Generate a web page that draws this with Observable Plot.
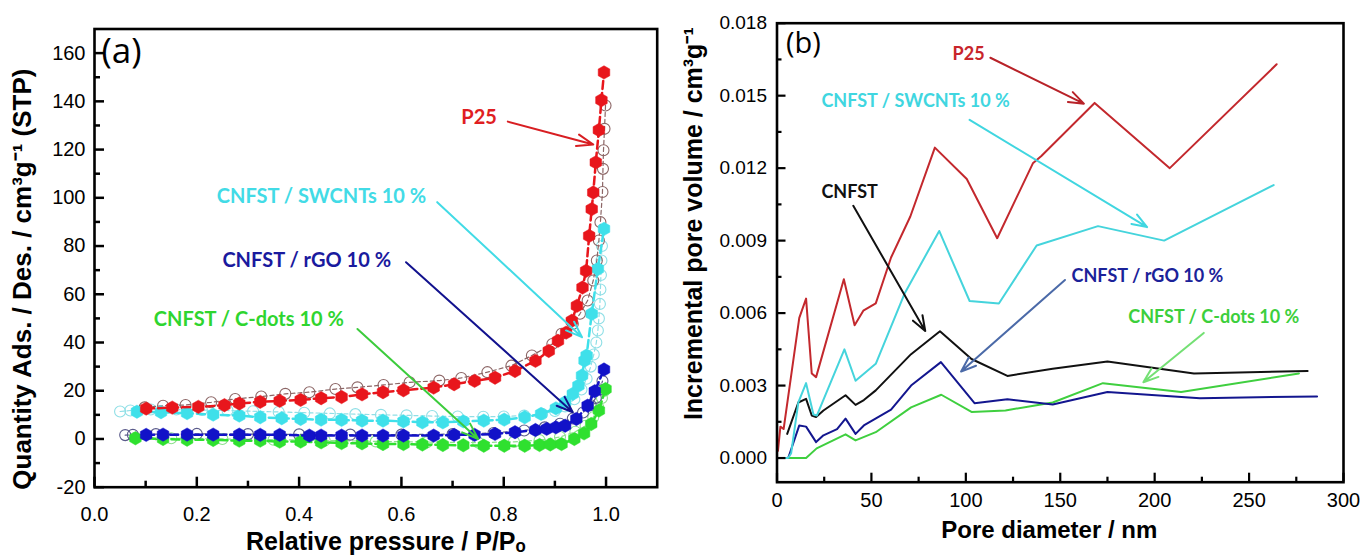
<!DOCTYPE html>
<html><head><meta charset="utf-8">
<script src="https://cdn.jsdelivr.net/npm/d3@7"></script>
<script src="https://cdn.jsdelivr.net/npm/@observablehq/plot@0.6"></script>
<style>
html,body{margin:0;padding:0;background:#fff;}
#wrap{position:relative;width:1362px;height:555px;overflow:hidden;background:#fff;}
#pa{position:absolute;left:0;top:0;}
#pb{position:absolute;left:680px;top:0;}
</style></head><body><div id="wrap"><div id="pa"></div><div id="pb"></div></div>
<script>
// ================= DATA: panel (a) isotherms [P/P0, quantity] =================
const aXTicks = [0, 0.2, 0.4, 0.6, 0.8, 1.0];
const aXMinor = [0.1, 0.3, 0.5, 0.7, 0.9];
const aYTicks = [-20, 0, 20, 40, 60, 80, 100, 120, 140, 160];
const aYMinor = [-10, 10, 30, 50, 70, 90, 110, 130, 150];

const p25Ads = [[0.101,12.6],[0.152,13.0],[0.203,13.3],[0.254,14.0],[0.283,14.7],[0.324,15.4],[0.362,15.8],[0.403,16.2],[0.443,16.9],[0.483,17.4],[0.523,18.5],[0.564,19.4],[0.604,20.2],[0.663,21.3],[0.703,22.7],[0.743,24.1],[0.783,25.4],[0.822,28.2],[0.862,32.4],[0.888,36.5],[0.906,40.7],[0.922,44.1],[0.933,49.0],[0.943,55.2],[0.954,62.8],[0.961,69.7],[0.967,84.2],[0.972,95.3],[0.975,102.2],[0.980,114.7],[0.986,128.1],[0.991,140.5],[0.996,152.0]];
const p25Des = [[0.098,13.1],[0.134,13.8],[0.178,14.1],[0.228,15.2],[0.275,16.6],[0.326,17.6],[0.373,18.7],[0.420,19.4],[0.471,20.7],[0.514,21.4],[0.565,22.4],[0.616,23.5],[0.674,24.2],[0.717,25.3],[0.768,27.7],[0.815,30.4],[0.855,34.6],[0.895,39.4],[0.913,43.6],[0.935,47.7],[0.949,51.9],[0.964,57.4],[0.975,65.7],[0.982,74.0],[0.986,82.3],[0.989,89.9],[0.993,102.4],[0.994,112.0],[0.995,119.7],[0.997,128.6],[0.999,138.3]];

const swAds = [[0.083,11.3],[0.130,11.1],[0.181,10.7],[0.232,10.1],[0.283,9.7],[0.324,9.0],[0.366,8.6],[0.403,8.3],[0.443,8.0],[0.483,7.9],[0.523,7.6],[0.564,7.6],[0.604,7.3],[0.641,6.9],[0.681,6.9],[0.721,7.3],[0.761,7.6],[0.801,8.0],[0.841,9.0],[0.873,10.4],[0.902,12.7],[0.920,15.2],[0.935,18.7],[0.946,22.1],[0.953,26.3],[0.958,32.5],[0.962,34.6],[0.972,51.9],[0.984,70.5],[0.996,87.1]];
const swDes = [[0.05,11.4],[0.07,11.8],[0.11,12.2],[0.16,12.2],[0.21,12.0],[0.26,11.8],[0.31,11.5],[0.36,11.2],[0.41,10.9],[0.46,10.6],[0.51,10.3],[0.56,10.0],[0.61,9.8],[0.66,9.5],[0.71,9.3],[0.76,9.2],[0.80,9.3],[0.84,9.7],[0.875,10.4],[0.90,11.6],[0.92,13.5],[0.938,16.5],[0.952,20.5],[0.962,25],[0.970,30],[0.976,35],[0.981,40],[0.984,45],[0.986,50],[0.988,56],[0.989,62],[0.990,68],[0.991,74],[0.992,80]];

const rgoAds = [[0.101,1.7],[0.134,1.8],[0.181,1.8],[0.232,1.8],[0.283,1.8],[0.324,1.7],[0.362,1.7],[0.420,1.4],[0.443,1.4],[0.483,1.4],[0.523,1.4],[0.564,1.4],[0.604,1.4],[0.663,1.4],[0.703,1.7],[0.743,1.7],[0.783,2.1],[0.822,2.8],[0.862,3.7],[0.884,4.2],[0.902,4.8],[0.920,5.5],[0.942,8.3],[0.964,13.8],[0.978,19.8],[0.996,28.8]];
const rgoDes = [[0.06,1.6],[0.075,1.7],[0.12,2.0],[0.20,2.1],[0.30,2.0],[0.40,1.9],[0.50,1.8],[0.60,1.8],[0.70,2.0],[0.78,2.5],[0.84,3.5],[0.88,4.8],[0.91,6.3],[0.935,8.5],[0.955,11.0],[0.970,14.0],[0.980,17.0],[0.988,20.5],[0.993,24.0]];

const cdAds = [[0.080,0.3],[0.134,0.0],[0.181,-0.3],[0.232,-0.4],[0.283,-0.7],[0.324,-0.7],[0.362,-1.1],[0.403,-1.1],[0.443,-1.4],[0.483,-1.7],[0.523,-1.8],[0.564,-2.1],[0.604,-2.1],[0.641,-2.3],[0.681,-2.5],[0.721,-2.6],[0.761,-2.8],[0.801,-2.8],[0.841,-2.8],[0.870,-2.5],[0.891,-2.3],[0.913,-2.1],[0.938,0.0],[0.957,2.3],[0.971,6.2],[0.986,11.8],[0.999,20.7]];
const cdDes = [[0.08,0.5],[0.15,0.3],[0.25,0.0],[0.35,-0.3],[0.45,-0.6],[0.55,-1.0],[0.65,-1.3],[0.75,-1.5],[0.82,-1.2],[0.87,-0.5],[0.91,0.8],[0.94,3.0],[0.96,5.5],[0.975,9.0],[0.985,13.0],[0.992,17.0],[0.997,20.0]];

// labels and arrows of panel (a), in data units
const aLabels = ["P25", "CNFST / SWCNTs 10 %", "CNFST / rGO 10 %", "CNFST / C-dots 10 %"];
const aLabelAt = [[0.717,133.3],[0.239,100.3],[0.250,74.0],[0.116,49.4]];
const aArrows = [[0.808,131.6,0.975,122.1],[0.670,98.2,0.953,42.2],[0.609,73.3,0.935,11.1],[0.514,45.6,0.750,0.0]];

// ================= DATA: panel (b) pore size distributions [nm, cm3/g] =================
const bXTicks = [0, 50, 100, 150, 200, 250, 300];
const bXMinor = [25, 75, 125, 175, 225, 275];
const bYTicks = [0, 0.003, 0.006, 0.009, 0.012, 0.015, 0.018];
const bYMinor = [0.0015, 0.0045, 0.0075, 0.0105, 0.0135, 0.0165];

const p25Pore = [[0.5,0.0003],[1.8,0.0013],[3.5,0.0012],[11.8,0.0058],[15.4,0.0066],[18.4,0.0035],[20.7,0.00335],[35.4,0.0074],[41.1,0.0055],[45.7,0.0061],[52.3,0.0064],[60.4,0.0083],[70.6,0.0100],[83.6,0.01285],[100.5,0.01155],[116.6,0.0091],[135.5,0.0122],[140,0.0125],[168.2,0.0147],[208,0.0120],[264.6,0.0163]];
const swPore = [[0,0],[5.9,0],[7.5,0.0002],[11.3,0.0023],[15.4,0.0031],[19.3,0.0018],[21.1,0.00176],[35.7,0.0045],[41.6,0.0032],[52.3,0.0039],[67.5,0.0068],[85.9,0.0094],[102,0.0065],[117.5,0.0064],[137.5,0.0088],[170,0.0096],[205,0.0090],[263,0.0113]];
const cnfstPore = [[5.4,0.001],[11.3,0.0023],[15.4,0.00245],[18.4,0.00176],[20.7,0.0017],[24.6,0.00197],[36.3,0.0026],[41.6,0.0022],[46,0.0024],[52.3,0.0028],[71,0.0043],[86.3,0.00525],[103,0.0041],[122,0.0034],[146,0.0037],[175,0.0040],[220.8,0.0035],[281,0.0036]];
const rgoPore = [[0,0],[5.9,0],[6.8,0.0002],[11.8,0.00135],[15.4,0.0013],[20.7,0.00066],[24.6,0.00094],[31.8,0.0012],[36.3,0.00163],[41.6,0.001],[46,0.00135],[60.4,0.002],[71,0.003],[86.8,0.00397],[104.6,0.00227],[122,0.00243],[146,0.00222],[175,0.00273],[224,0.00248],[286,0.00255]];
const cdPore = [[0,0],[15.4,0],[21,0.0004],[36.3,0.00098],[41.6,0.00073],[52.3,0.00107],[71,0.0021],[87,0.00262],[103,0.00191],[121,0.00197],[146,0.0023],[172.6,0.0031],[214,0.00273],[276.4,0.0035]];

const bLabels = ["P25", "CNFST / SWCNTs 10 %", "CNFST", "CNFST / rGO 10 %", "CNFST / C-dots 10 %"];
const bLabelAt = [[93,0.01672],[23.5,0.01475],[23.5,0.0110],[156,0.00752],[186,0.00584]];
const bArrows = [[113,0.01657,162.5,0.01467],[102,0.0140,196,0.00956],[40.4,0.01044,78.5,0.00526],[152.5,0.00737,97.5,0.00358],[226,0.00518,194,0.00314]];

// ================= STYLE =================
const AXFONT = "'Liberation Sans', Arial, sans-serif";
const NOTEFONT = "Lato, 'Open Sans', sans-serif";
const X = d => d[0], Y = d => d[1];

// ---------- Panel (a) ----------
{
  const W = 680, H = 555, ML = 94, MR = 23.3, MT = 28.5, MB = 68.3;
  const iw = W - ML - MR, ih = H - MT - MB;
  const series = [
    {ads: cdAds,  des: cdDes,  fill: "#2fe02f", open: "#8fe08f"},
    {ads: rgoAds, des: rgoDes, fill: "#1212c8", open: "#5a5a8a"},
    {ads: swAds,  des: swDes,  fill: "#3fe0ea", open: "#8fdfe6"},
    {ads: p25Ads, des: p25Des, fill: "#e8161c", open: "#8c6666"}
  ];
  const labelColors = ["#e01e22", "#42dbe6", "#1a1a9e", "#2fd52f"];
  const arrowColors = ["#d81e22", "#42dbe6", "#12128e", "#3ccc3c"];
  const marks = [];
  for (const s of series) {
    marks.push(Plot.line(s.des, {x: X, y: Y, stroke: s.open, strokeWidth: 1.2, strokeDasharray: "4,3"}));
    marks.push(Plot.dot(s.des, {x: X, y: Y, r: 5.5, stroke: s.open, strokeWidth: 1.1, fill: "none"}));
  }
  for (const s of series) {
    marks.push(Plot.line(s.ads, {x: X, y: Y, stroke: s.fill, strokeWidth: 2.5, strokeDasharray: "8,4"}));
    marks.push(Plot.dot(s.ads, {x: X, y: Y, r: 5.8, symbol: "hexagon", fill: s.fill, stroke: s.fill, strokeWidth: 0.5}));
  }
  aArrows.forEach((a, i) => {
    marks.push(Plot.arrow([a], {x1: d => d[0], y1: d => d[1], x2: d => d[2], y2: d => d[3], stroke: arrowColors[i], strokeWidth: 2, headLength: 13, headAngle: 40}));
  });
  aLabels.forEach((t, i) => {
    marks.push(Plot.text([aLabelAt[i]], {x: X, y: Y, text: () => t, textAnchor: "start", fill: labelColors[i], fontSize: 20, fontWeight: "bold", fontFamily: NOTEFONT}));
  });
  const chart = Plot.plot({
    width: W, height: H, marginLeft: ML, marginRight: MR, marginTop: MT, marginBottom: MB,
    x: {domain: [0, 1.1]}, y: {domain: [-20, 170]},
    style: {fontFamily: AXFONT, background: "white", color: "black", overflow: "visible"},
    marks: [
      ...marks,
      Plot.axisX({ticks: aXTicks, tickSize: 0, tickPadding: 20, fontSize: 20, tickFormat: d3.format(".1f"), label: null}),
      Plot.axisY({ticks: aYTicks, tickSize: 0, tickPadding: 9, fontSize: 20, tickFormat: d => String(d), label: null}),
      Plot.tickX(aXTicks, {x: d => d, insetTop: ih - 10, strokeWidth: 2.5}),
      Plot.tickX(aXMinor, {x: d => d, insetTop: ih - 6, strokeWidth: 2.5}),
      Plot.tickY(aYTicks, {y: d => d, insetRight: iw - 10, strokeWidth: 2.5}),
      Plot.tickY(aYMinor, {y: d => d, insetRight: iw - 6, strokeWidth: 2.5}),
      Plot.frame({stroke: "black", strokeWidth: 2.6}),
      Plot.text(["(a)"], {frameAnchor: "top-left", text: d => d, dx: 7, dy: 9, lineAnchor: "top", textAnchor: "start", fontSize: 35, fontFamily: "'Open Sans', sans-serif"}),
      Plot.text(["Relative pressure / P/Pₒ"], {frameAnchor: "bottom", text: d => d, dx: 10, dy: 55, lineAnchor: "middle", textAnchor: "middle", fontSize: 25, fontWeight: "bold"}),
      Plot.text(["Quantity Ads. / Des. / cm³g⁻¹ (STP)"], {frameAnchor: "left", text: d => d, rotate: -90, dx: -72, dy: 21, lineAnchor: "middle", textAnchor: "middle", fontSize: 26, fontWeight: "bold"})
    ]
  });
  document.getElementById("pa").append(chart);
}

// ---------- Panel (b) ----------
{
  const W = 682, H = 555, ML = 96.5, MR = 19, MT = 22.7, MB = 73.3;
  const iw = W - ML - MR, ih = H - MT - MB;
  const lines = [
    {data: cdPore,    color: "#3fcf3f"},
    {data: rgoPore,   color: "#13168f"},
    {data: cnfstPore, color: "#111111"},
    {data: swPore,    color: "#45d4dc"},
    {data: p25Pore,   color: "#c3282d"}
  ];
  const labelColors = ["#c8252b", "#40d6e0", "#111111", "#1b2299", "#3ccf3c"];
  const arrowColors = ["#b82228", "#40d6e0", "#111111", "#4b6aa8", "#74e074"];
  const marks = lines.map(l => Plot.line(l.data, {x: X, y: Y, stroke: l.color, strokeWidth: 2}));
  bArrows.forEach((a, i) => {
    marks.push(Plot.arrow([a], {x1: d => d[0], y1: d => d[1], x2: d => d[2], y2: d => d[3], stroke: arrowColors[i], strokeWidth: 2, headLength: 12, headAngle: 40}));
  });
  bLabels.forEach((t, i) => {
    marks.push(Plot.text([bLabelAt[i]], {x: X, y: Y, text: () => t, textAnchor: "start", fill: labelColors[i], fontSize: 18, fontWeight: "bold", fontFamily: NOTEFONT}));
  });
  const chart = Plot.plot({
    width: W, height: H, marginLeft: ML, marginRight: MR, marginTop: MT, marginBottom: MB,
    x: {domain: [0, 300]}, y: {domain: [-0.001, 0.018]},
    style: {fontFamily: AXFONT, background: "white", color: "black", overflow: "visible"},
    marks: [
      ...marks,
      Plot.axisX({ticks: bXTicks, tickSize: 0, tickPadding: 11, fontSize: 20, tickFormat: d => String(d), label: null}),
      Plot.axisY({ticks: bYTicks, tickSize: 0, tickPadding: 10, fontSize: 19, tickFormat: d3.format(".3f"), label: null}),
      Plot.tickX(bXTicks, {x: d => d, insetTop: ih - 9, strokeWidth: 2.2}),
      Plot.tickX(bXMinor, {x: d => d, insetTop: ih - 5, strokeWidth: 2.2}),
      Plot.tickY(bYTicks, {y: d => d, insetRight: iw - 9, strokeWidth: 2.2}),
      Plot.tickY(bYMinor, {y: d => d, insetRight: iw - 5, strokeWidth: 2.2}),
      Plot.frame({stroke: "black", strokeWidth: 2.6}),
      Plot.text(["(b)"], {frameAnchor: "top-left", text: d => d, dx: 9, dy: 9, lineAnchor: "top", textAnchor: "start", fontSize: 29, fontFamily: "'Open Sans', sans-serif"}),
      Plot.text(["Pore diameter / nm"], {frameAnchor: "bottom", text: d => d, dx: -11, dy: 48, lineAnchor: "middle", textAnchor: "middle", fontSize: 24, fontWeight: "bold"}),
      Plot.text(["Incremental pore volume / cm³g⁻¹"], {frameAnchor: "left", text: d => d, rotate: -90, dx: -83.5, dy: -29, lineAnchor: "middle", textAnchor: "middle", fontSize: 25, fontWeight: "bold"})
    ]
  });
  document.getElementById("pb").append(chart);
}
</script></body></html>
